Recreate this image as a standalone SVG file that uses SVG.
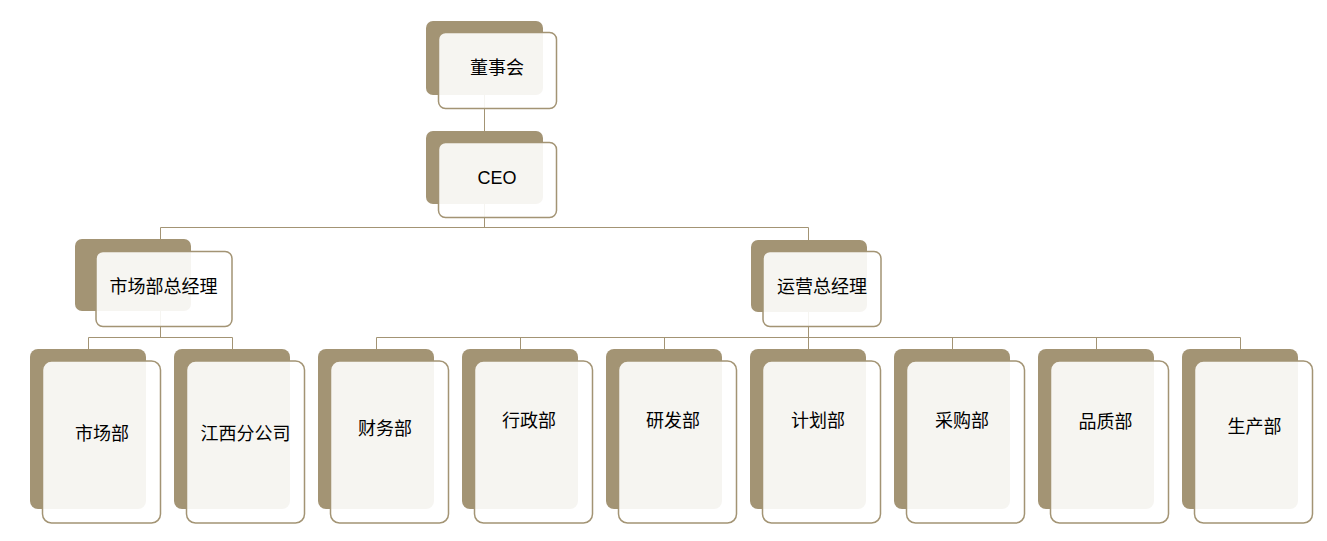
<svg xmlns="http://www.w3.org/2000/svg" width="1327" height="541" viewBox="0 0 1327 541">
<style>
.bk{fill:#A39474}
.fr{fill:#FFFFFF;fill-opacity:0.9;stroke:#A39474;stroke-width:1.5}
.ln{stroke:#A39474;stroke-width:1;fill:none}
text{font-family:"Liberation Sans","Noto Sans CJK SC",sans-serif;font-size:18px;fill:#000;text-anchor:middle;dominant-baseline:central}
</style>
<rect width="1327" height="541" fill="#FFFFFF"/>
<g id="nodes-back">
<rect class="bk" x="426" y="21" width="117" height="74" rx="7"/>
<rect class="bk" x="426" y="131" width="117" height="73" rx="7"/>
<rect class="bk" x="75" y="239" width="116" height="72" rx="7"/>
<rect class="bk" x="751" y="240" width="116" height="72" rx="7"/>
<rect class="bk" x="30" y="349" width="116" height="160" rx="8"/>
<rect class="bk" x="174" y="349" width="116" height="160" rx="8"/>
<rect class="bk" x="318" y="349" width="116" height="160" rx="8"/>
<rect class="bk" x="462" y="349" width="116" height="160" rx="8"/>
<rect class="bk" x="606" y="349" width="116" height="160" rx="8"/>
<rect class="bk" x="750" y="349" width="116" height="160" rx="8"/>
<rect class="bk" x="894" y="349" width="116" height="160" rx="8"/>
<rect class="bk" x="1038" y="349" width="116" height="160" rx="8"/>
<rect class="bk" x="1182" y="349" width="116" height="160" rx="8"/>
</g>
<g id="connectors">
<path class="ln" d="M484.5 95 V142 M484.5 204 V227.5 M160.5 227.5 H808.5 M160.5 227.5 V252 M808.5 227.5 V252"/>
<path class="ln" d="M160.5 311 V337.5 M88.5 337.5 H232.5 M88.5 337.5 V349 M232.5 337.5 V349"/>
<path class="ln" d="M808.5 312 V337.5 M376.5 337.5 H1240.5 M376.5 337.5 V349 M520.5 337.5 V349 M664.5 337.5 V349 M808.5 337.5 V349 M952.5 337.5 V349 M1096.5 337.5 V349 M1240.5 337.5 V349"/>
</g>
<g id="n-board"><rect class="fr" x="438.5" y="32.5" width="118" height="76" rx="7"/><text x="497" y="68">董事会</text></g>
<g id="n-ceo"><rect class="fr" x="438.5" y="142.5" width="118" height="75" rx="7"/><text x="497" y="178">CEO</text></g>
<g id="n-mkt-gm"><rect class="fr" x="96" y="251.5" width="136" height="75" rx="7"/><text x="163.5" y="287">市场部总经理</text></g>
<g id="n-ops-gm"><rect class="fr" x="763" y="251.5" width="118" height="75" rx="7"/><text x="822" y="287">运营总经理</text></g>
<g id="n-mkt"><rect class="fr" x="42.5" y="361" width="118" height="162" rx="9"/><text x="102" y="434">市场部</text></g>
<g id="n-jx"><rect class="fr" x="186.5" y="361" width="118" height="162" rx="9"/><text x="245.5" y="434">江西分公司</text></g>
<g id="n-fin"><rect class="fr" x="330.5" y="361" width="118" height="162" rx="9"/><text x="385" y="429">财务部</text></g>
<g id="n-adm"><rect class="fr" x="474.5" y="361" width="118" height="162" rx="9"/><text x="529" y="421">行政部</text></g>
<g id="n-rd"><rect class="fr" x="618.5" y="361" width="118" height="162" rx="9"/><text x="673" y="421">研发部</text></g>
<g id="n-plan"><rect class="fr" x="762.5" y="361" width="118" height="162" rx="9"/><text x="818" y="421">计划部</text></g>
<g id="n-pur"><rect class="fr" x="906.5" y="361" width="118" height="162" rx="9"/><text x="962" y="421">采购部</text></g>
<g id="n-qa"><rect class="fr" x="1050.5" y="361" width="118" height="162" rx="9"/><text x="1105.5" y="422">品质部</text></g>
<g id="n-prod"><rect class="fr" x="1194.5" y="361" width="118" height="162" rx="9"/><text x="1254.5" y="427">生产部</text></g>
</svg>
